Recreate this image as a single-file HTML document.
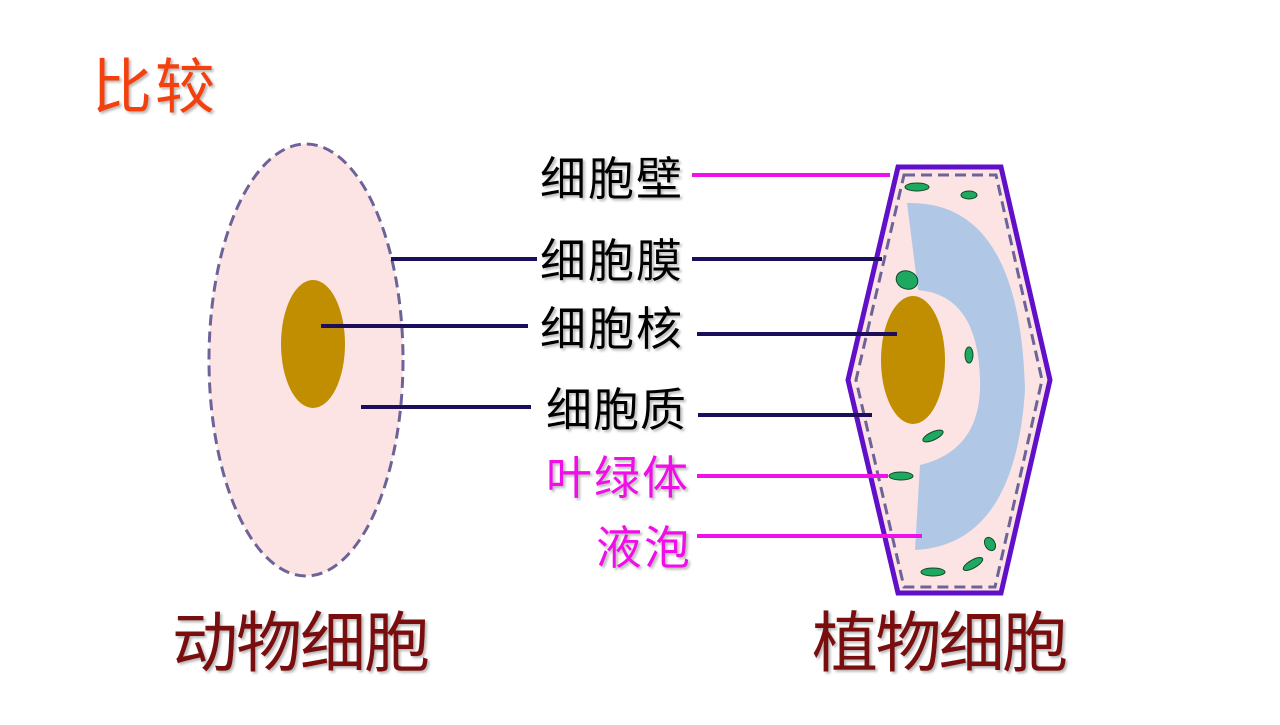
<!DOCTYPE html>
<html><head><meta charset="utf-8"><style>
body{margin:0;width:1280px;height:720px;background:#fff;overflow:hidden}
svg text{font-family:"Liberation Sans","Noto Sans CJK SC",sans-serif}
</style></head><body>
<svg width="1280" height="720" viewBox="0 0 1280 720">
<defs><filter id="sh"><feDropShadow dx="2" dy="2" stdDeviation="1.2" flood-color="#999" flood-opacity="0.7"/></filter></defs>
<text x="92" y="108" font-size="60" fill="#f3400e" filter="url(#sh)" textLength="123">比较</text>
<!-- animal cell -->
<ellipse cx="306" cy="360" rx="97" ry="216" fill="#fde4e4" stroke="#6d6399" stroke-width="3" stroke-dasharray="11,6"/>
<ellipse cx="313" cy="344" rx="32" ry="64" fill="#c08e00"/>
<!-- plant cell -->
<polygon points="898,167 1001,167 1050,380 1001,593 898,593 848,380" fill="#fde4e4" stroke="#6010c8" stroke-width="5"/>
<polygon points="904,175 996,175 1042,380 995,587 904,587 856,380" fill="none" stroke="#6d6399" stroke-width="3" stroke-dasharray="11,6"/>
<path d="M907,203 Q1020,200 1025,390 Q1015,545 915,550 L920,465 Q982,450 980,380 Q978,295 918,290 Z" fill="#b0c8e6"/>
<ellipse cx="913" cy="360" rx="32" ry="64" fill="#c08e00"/>
<g fill="#1fa860" stroke="#0d4a2a" stroke-width="1">
<ellipse cx="917" cy="187" rx="12" ry="4"/>
<ellipse cx="969" cy="195" rx="8" ry="4"/>
<ellipse cx="907" cy="280" rx="11" ry="9" transform="rotate(20 907 280)"/>
<ellipse cx="969" cy="355" rx="4" ry="8"/>
<ellipse cx="933" cy="436" rx="11" ry="4" transform="rotate(-25 933 436)"/>
<ellipse cx="901" cy="476" rx="12" ry="4"/>
<ellipse cx="990" cy="544" rx="5" ry="7" transform="rotate(-30 990 544)"/>
<ellipse cx="973" cy="564" rx="11" ry="4" transform="rotate(-30 973 564)"/>
<ellipse cx="933" cy="572" rx="12" ry="4"/>
</g>
<!-- lines -->
<g stroke-width="4">
<line x1="391" y1="259" x2="537" y2="259" stroke="#1c0e5a"/>
<line x1="321" y1="326" x2="528" y2="326" stroke="#1c0e5a"/>
<line x1="361" y1="407" x2="531" y2="407" stroke="#1c0e5a"/>
<line x1="692" y1="175" x2="890" y2="175" stroke="#f010e8"/>
<line x1="692" y1="259" x2="882" y2="259" stroke="#1c0e5a"/>
<line x1="697" y1="334" x2="897" y2="334" stroke="#1c0e5a"/>
<line x1="698" y1="415" x2="872" y2="415" stroke="#1c0e5a"/>
<line x1="697" y1="476" x2="888" y2="476" stroke="#f010e8"/>
<line x1="697" y1="536" x2="922" y2="536" stroke="#f010e8"/>
</g>
<g font-size="46" fill="#000" filter="url(#sh)">
<text x="540" y="195" textLength="142">细胞壁</text>
<text x="540" y="277" textLength="142">细胞膜</text>
<text x="540" y="345" textLength="142">细胞核</text>
<text x="546" y="426" textLength="140">细胞质</text>
<text x="546" y="494" fill="#f010e8" textLength="142">叶绿体</text>
<text x="596" y="564" fill="#f010e8" textLength="94">液泡</text>
</g>
<g font-size="66" fill="#7a0a10" filter="url(#sh)">
<text x="172" y="666" textLength="258">动物细胞</text>
<text x="812" y="666" textLength="256">植物细胞</text>
</g>
</svg>
</body></html>
